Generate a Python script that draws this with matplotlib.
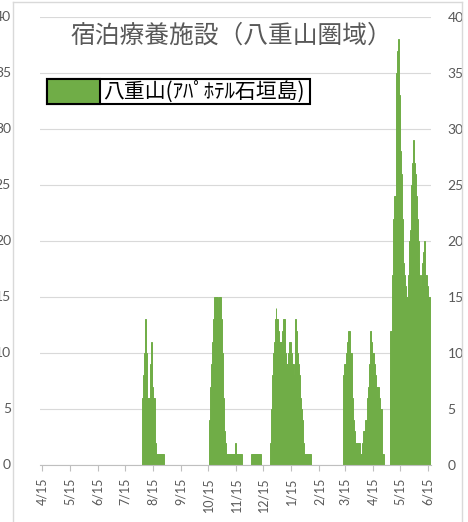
import matplotlib
matplotlib.use('Agg')
import matplotlib.pyplot as plt
import matplotlib.dates as mdates
import matplotlib.transforms as mtransforms
from matplotlib.patches import Rectangle
from matplotlib.lines import Line2D
import pandas as pd
import numpy as np

plt.rcParams['font.family'] = ['Lato', 'Noto Sans CJK JP', 'DejaVu Sans']

title = "宿泊療養施設（八重山圏域）"
series_name = "八重山(ｱﾊﾟﾎﾃﾙ石垣島)"

# daily counts (non-zero segments); all other days are 0
seg1_start = "2020-08-04"
seg1_values = [6, 8, 10, 13, 10, 6, 6, 6, 9, 11, 9, 7, 6, 6, 2,
               1, 1, 1, 1, 1, 1, 1, 1, 1]
seg2_start = "2020-10-17"
seg2_values = [4, 7, 9, 11, 13, 15, 15, 15, 15, 14, 15, 15, 15, 13, 10, 6, 3, 2,
               1, 1, 1, 1, 1, 1, 1, 1, 1, 1, 2, 1, 1, 1, 1, 1, 1, 1]
seg3_start = "2020-12-02"
seg3_values = [1, 1, 1, 1, 1, 1, 1, 1, 1, 1, 1]
seg4_start = "2020-12-23"
seg4_values = [2, 5, 8, 10, 11, 13, 14, 13, 13, 12, 11, 11, 11, 12, 13, 13, 11, 10,
               9, 9, 10, 11, 11, 10, 9, 9, 8, 11, 13, 12, 10, 9, 8, 6, 5, 4, 2,
               1, 1, 1, 1, 1, 1, 1, 1]
seg5_start = "2021-03-14"
seg5_values = [8, 9, 9, 10, 11, 12, 12, 10, 10, 8, 6, 4, 3, 2, 2, 2, 2, 2, 1, 1, 1,
               2, 3, 3, 4, 4, 6, 7, 9, 12, 12, 11, 10, 10, 9, 8, 7, 7, 7, 6, 5, 5, 5,
               1, 1]
seg6_start = "2021-05-04"
seg6_values = [8, 12, 12, 17, 22, 24, 24, 35, 37, 38, 33, 31, 28, 26, 22, 18, 17, 16,
               15, 15, 17, 18, 20, 21, 25, 27, 29, 27, 26, 24, 22, 20, 18, 17, 16, 17,
               18, 19, 20, 17, 17, 16, 15, 15, 15]

tick_dates = ["2020-04-15", "2020-05-15", "2020-06-15", "2020-07-15", "2020-08-15",
              "2020-09-15", "2020-10-15", "2020-11-15", "2020-12-15", "2021-01-15",
              "2021-02-15", "2021-03-15", "2021-04-15", "2021-05-15", "2021-06-15"]
tick_labels = ["4/15", "5/15", "6/15", "7/15", "8/15", "9/15", "10/15", "11/15",
               "12/15", "1/15", "2/15", "3/15", "4/15", "5/15", "6/15"]
y_ticks = [0, 5, 10, 15, 20, 25, 30, 35, 40]

dates = pd.date_range("2020-04-12", "2021-06-18", freq="D")
series = pd.Series(0.0, index=dates)
for start, vals in [(seg1_start, seg1_values), (seg2_start, seg2_values),
                    (seg3_start, seg3_values), (seg4_start, seg4_values),
                    (seg5_start, seg5_values), (seg6_start, seg6_values)]:
    idx = pd.date_range(start, periods=len(vals), freq="D")
    series.loc[idx] = vals

GREEN = '#70AD47'
GRAY_TXT = '#595959'
W, H = 468, 522

fig = plt.figure(figsize=(W / 100, H / 100), dpi=100)
ax = fig.add_axes([40 / W, 1 - 465 / H, (431 - 40) / W, (465 - 17) / H])

ax.bar(mdates.date2num(series.index), series.values, width=1.0, color=GREEN,
       edgecolor=GREEN, linewidth=0.7, zorder=2)

ax.set_ylim(0, 40)
ax.set_yticks(y_ticks)
ax.yaxis.tick_right()
ax.tick_params(axis='y', length=0, pad=12, labelsize=10, labelcolor=GRAY_TXT)
ax.grid(axis='y', color='#D9D9D9', lw=0.8)
ax.set_axisbelow(True)
for s in ['top', 'left', 'right']:
    ax.spines[s].set_visible(False)
ax.spines['bottom'].set_color('#BFBFBF')
ax.spines['bottom'].set_linewidth(0.8)

x0 = mdates.date2num(pd.Timestamp("2020-04-12")) + 0.24
x1 = mdates.date2num(pd.Timestamp("2021-06-18")) + 0.3
ax.set_xlim(x0, x1)
ax.set_xticks(mdates.date2num(pd.to_datetime(tick_dates)))
ax.set_xticklabels(tick_labels)
ax.tick_params(axis='x', length=4, color='#BFBFBF', pad=5, labelsize=9,
               labelcolor=GRAY_TXT, labelrotation=90)

# clipped labels of the neighbouring chart on the far left
blend = mtransforms.blended_transform_factory(fig.transFigure, ax.transData)
for v in y_ticks:
    ax.text(11 / W, v, str(v), transform=blend, ha='right', va='center',
            fontsize=10, color=GRAY_TXT, clip_on=False)

# chart border
for xs, ys in [([13 / W, 13 / W], [0, 1 - 2 / H]),
               ([462 / W, 462 / W], [0, 1 - 2 / H]),
               ([13 / W, 462 / W], [1 - 2 / H, 1 - 2 / H])]:
    fig.add_artist(Line2D(xs, ys, transform=fig.transFigure, color='#D9D9D9', lw=1))

fig.text(231 / W, 1 - 36 / H, title, ha='center', va='center', fontsize=17.8,
         color=GRAY_TXT, family=['Noto Sans CJK JP', 'DejaVu Sans'])

# legend
fig.add_artist(Rectangle((47 / W, 1 - 104 / H), (310 - 47) / W, 25 / H,
                         transform=fig.transFigure, facecolor='white',
                         edgecolor='black', lw=1.5, zorder=5))
fig.add_artist(Rectangle((47 / W, 1 - 104 / H), 53 / W, 25 / H,
                         transform=fig.transFigure, facecolor=GREEN,
                         edgecolor='black', lw=1.5, zorder=6))
fig.text(103 / W, 1 - 92 / H, series_name, ha='left', va='center', fontsize=15,
         color='black', family=['Noto Sans CJK JP', 'DejaVu Sans'], zorder=7)

fig.savefig('out.png', dpi=100)
